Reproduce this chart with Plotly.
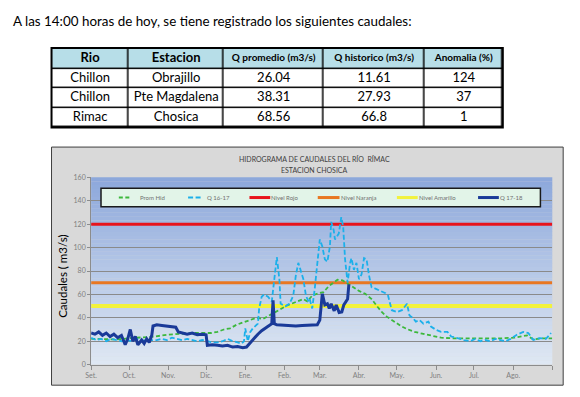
import plotly.graph_objects as go

W, H = 580, 397

# ---------------- data ----------------
header_text = "A las 14:00 horas de hoy, se tiene registrado los siguientes caudales:"

tbl_headers = ["Rio", "Estacion", "Q promedio (m3/s)", "Q historico (m3/s)", "Anomalia (%)"]
rio = ["Chillon", "Chillon", "Rimac"]
estacion = ["Obrajillo", "Pte Magdalena", "Chosica"]
q_promedio = [26.04, 38.31, 68.56]
q_historico = [11.61, 27.93, 66.8]
anomalia = [124, 37, 1]

chart_title_1 = "HIDROGRAMA DE CAUDALES DEL RÍO  RÍMAC"
chart_title_2 = "ESTACION CHOSICA"
y_title = "Caudales ( m3/s)"

month_days = [0, 30, 61, 91, 122, 153, 181, 212, 242, 273, 303, 334, 365]
month_labels = ["Set.", "Oct.", "Nov.", "Dic.", "Ene.", "Feb.", "Mar.", "Abr.", "May.", "Jun.", "Jul.", "Ago.", ""]

# Prom Hid (historical mean)
prom_days = [0, 10, 20, 30, 40, 50, 60, 70, 80, 90, 95, 100, 105, 110, 115, 120, 125, 131, 136,
             141, 146, 150, 155, 162, 168, 171, 175, 180, 184, 188, 192, 195, 199, 203, 207, 212,
             217, 222, 227, 230, 234, 238, 242, 246, 251, 256, 262, 267, 272, 277, 285, 295, 305,
             315, 325, 335, 340, 345, 350, 357, 365]
prom_vals = [22, 22, 21.5, 22.5, 23, 24, 25.5, 26.5, 27, 27, 27, 28, 30, 31, 34, 36, 38, 40, 39,
             42, 45, 48, 50.5, 53.5, 56, 54, 59, 61, 62, 67, 70, 72.5, 72, 69, 66, 63,
             60.5, 56, 49, 45, 41, 38, 35, 32.5, 30, 28, 26.5, 25.5, 24, 23, 22.5, 22.5, 22,
             22.5, 22.5, 23, 24, 25, 21.5, 22.5, 22.5]

# Q 16-17
q1617_days = [0, 4, 8, 12, 16, 20, 24, 28, 32, 36, 40, 44, 48, 52, 56, 60, 64, 68, 72, 76, 80,
              84, 88, 92, 96, 100, 104, 108, 112, 116, 119, 121, 122, 124, 126, 128, 130, 132,
              133, 135, 137, 140, 143, 145, 147, 149, 150, 154, 157, 160, 162, 164, 166, 168,
              170, 172, 173, 175, 177, 179, 181, 183, 185, 187, 189, 190, 192, 193, 196, 198,
              199.5, 201, 203, 205, 206, 208, 210, 212, 214, 216, 218, 220, 222, 225, 229, 233,
              235, 236, 238, 242, 246, 250, 252, 255, 257, 260, 263, 267, 269, 273, 277, 282,
              285, 290, 295, 300, 304, 308, 312, 316, 320, 324, 328, 332, 337, 342, 346, 350,
              355, 360, 364]
q1617_vals = [23, 21, 22, 20, 22, 21, 20, 21, 20, 22, 21, 20, 21, 21, 22, 21, 23, 22, 21, 22, 21,
              20, 21, 20, 19, 19, 20, 22, 20, 19, 18, 20, 31, 20, 28, 31, 33, 35,
              48, 58, 60, 58, 54, 73, 92, 73, 52, 50, 52, 59, 76, 87, 80, 73,
              59, 54, 56, 48, 65, 87, 107, 101, 90, 88, 101, 122, 115, 107, 112, 126,
              118, 90, 70, 87, 91, 81, 87, 73, 77, 91, 90, 76, 66, 65, 63, 61,
              59, 54, 46.5, 45, 46.5, 52, 42, 39.5, 36.7, 38, 35, 36.7, 32.5, 29.7, 28, 28,
              24, 22.7, 21, 20, 22, 20, 21, 20, 22, 21, 20, 22, 25.5, 28, 27, 21,
              22.7, 22, 27]

# Q 17-18 (current season)
q1718_days = [0, 3, 6, 9, 12, 15, 18, 21, 24, 27, 29, 31, 33, 35, 37, 40, 42, 44, 46, 48, 49,
              52, 56, 60, 64, 67, 69, 72, 76, 80, 84, 88, 91, 92, 96, 100, 104, 108, 112, 116,
              120, 123, 126, 129, 132, 135, 138, 141, 143, 144, 145, 147, 152, 157, 162, 167,
              172, 176, 179, 181, 183, 185, 187, 188.5, 190, 192.4, 194, 196.3, 198.4, 200,
              202, 203, 204]
q1718_vals = [27, 26, 28, 25, 27, 24, 26, 23, 25, 17, 22, 30, 20, 24, 17, 21, 18, 22, 19, 25, 33,
              34, 33.5, 33, 32.5, 32, 28, 27, 26, 27, 25.5, 26, 25.5, 16.5, 17, 16.5, 16, 16.5, 15, 15.5,
              14.5, 15, 19, 23, 26, 29, 31, 33, 35, 55, 35, 34, 33.5, 33.5, 33, 33.5,
              33.5, 34, 34, 38, 60.5, 51, 52, 48, 52, 46, 51, 44.5, 45, 51,
              55, 56, 68.56]

level_names = ["Nivel Rojo", "Nivel Naranja", "Nivel Amarillo"]
level_values = [120, 70, 50]

legend_names = ["Prom Hid", "Q 16-17", "Nivel Rojo", "Nivel Naranja", "Nivel Amarillo", "Q 17-18"]

# ---------------- styles / layout constants ----------------
COL_PROM = "#3cb83c"
COL_Q1617 = "#1cb0ea"
COL_Q1718 = "#1a3a98"
level_colors = ["#e8141c", "#e87722", "#f2f23c"]
level_widths = [3, 3, 4]
DASH_PROM = "4px,2.5px"
DASH_Q1617 = "5px,2.5px"

legend_style = {
    "Prom Hid": dict(color=COL_PROM, width=2, dash=DASH_PROM),
    "Q 16-17": dict(color=COL_Q1617, width=2, dash=DASH_Q1617),
    "Nivel Rojo": dict(color=level_colors[0], width=3),
    "Nivel Naranja": dict(color=level_colors[1], width=3),
    "Nivel Amarillo": dict(color=level_colors[2], width=3),
    "Q 17-18": dict(color=COL_Q1718, width=3),
}
# (key start, key end, text start) in pixels
legend_pos_px = [(114, 127, 135), (184, 199, 203), (246, 267, 268),
                 (315, 337, 338), (395, 416, 417), (477, 498, 499)]

table_col_widths = [78, 96, 101, 102, 79]
table_row_heights = [20, 20, 20, 21]          # bottom -> top (header on top)
header_font_sizes = [13, 13, 10, 10, 10]
cell_font_size = 13


def fx(p):
    return p / W


def fy(p):
    return 1 - p / H


FONT = "Lato, 'DejaVu Sans', sans-serif"

fig = go.Figure()

# ---------------- table (heatmap cells + text on its own axes) ----------------
col_edges = [0]
for w in table_col_widths:
    col_edges.append(col_edges[-1] + w)
row_edges = [0]
for h in table_row_heights:
    row_edges.append(row_edges[-1] + h)
col_centers = [(col_edges[i] + col_edges[i + 1]) / 2 for i in range(len(table_col_widths))]
row_centers = [(row_edges[i] + row_edges[i + 1]) / 2 for i in range(len(table_row_heights))]

n_body = len(rio)
z = [[0] * len(tbl_headers) for _ in range(n_body)] + [[1] * len(tbl_headers)]
fig.add_trace(go.Heatmap(
    x=col_edges, y=row_edges, z=z, xaxis="x2", yaxis="y2",
    colorscale=[[0, "white"], [1, "#b7dee8"]], zmin=0, zmax=1,
    showscale=False, xgap=1.5, ygap=1.5, hoverinfo="skip",
))

columns = [rio, estacion, [str(v) for v in q_promedio], [str(v) for v in q_historico],
           [str(v) for v in anomalia]]
tx, ty, tt, ts = [], [], [], []
for ci, col in enumerate(columns):
    tx.append(col_centers[ci])
    ty.append(row_centers[-1])
    tt.append("<b>%s</b>" % tbl_headers[ci])
    ts.append(header_font_sizes[ci])
    for ri, val in enumerate(col):
        tx.append(col_centers[ci])
        ty.append(row_centers[n_body - 1 - ri])
        tt.append(val)
        ts.append(cell_font_size)
fig.add_trace(go.Scatter(
    x=tx, y=ty, text=tt, mode="text", xaxis="x2", yaxis="y2",
    textposition="middle center", hoverinfo="skip",
    textfont=dict(family=FONT, size=ts, color="black"),
))

# ---------------- hydrograph ----------------
x_lo, x_hi = month_days[0], month_days[-1]

for name, val, col, wd in zip(level_names, level_values, level_colors, level_widths):
    fig.add_trace(go.Scatter(
        x=[x_lo, x_hi], y=[val, val], mode="lines", name=name,
        line=dict(color=col, width=wd), hoverinfo="skip",
    ))

fig.add_trace(go.Scatter(
    x=prom_days, y=prom_vals, mode="lines", name="Prom Hid",
    line=dict(color=COL_PROM, width=1.8, dash=DASH_PROM),
))
fig.add_trace(go.Scatter(
    x=q1617_days, y=q1617_vals, mode="lines", name="Q 16-17",
    line=dict(color=COL_Q1617, width=1.8, dash=DASH_Q1617),
))
fig.add_trace(go.Scatter(
    x=q1718_days, y=q1718_vals, mode="lines", name="Q 17-18",
    line=dict(color=COL_Q1718, width=3),
))

# ---------------- shapes ----------------
shapes = [
    dict(type="rect", xref="paper", yref="paper",
         x0=fx(46), x1=fx(563), y0=fy(388), y1=fy(145),
         fillcolor="#d9d9d9", line=dict(color="#3f3f3f", width=1), layer="below"),
    dict(type="rect", xref="x2 domain", yref="y2 domain", x0=0, x1=1, y0=0, y1=1,
         fillcolor="black", line=dict(width=0), layer="below"),
    dict(type="rect", xref="x2 domain", yref="y2 domain", x0=0, x1=1, y0=0, y1=1,
         fillcolor="rgba(0,0,0,0)", line=dict(color="black", width=2), layer="above"),
]
top_c = (141, 168, 219)
bot_c = (222, 231, 243)
n = 48
for i in range(n):
    t = i / (n - 1)
    c = tuple(int(round(top_c[k] + (bot_c[k] - top_c[k]) * t)) for k in range(3))
    shapes.append(dict(type="rect", xref="x domain", yref="y domain",
                       x0=0, x1=1, y0=1 - (i + 1) / n, y1=1 - i / n + 0.001,
                       fillcolor="rgb(%d,%d,%d)" % c, line=dict(width=0), layer="below"))

LEG_Y = 196.5
shapes.append(dict(type="rect", xref="paper", yref="paper",
                   x0=fx(96), x1=fx(540), y0=fy(206), y1=fy(187),
                   fillcolor="#e2f4e8", line=dict(color="#1a1a1a", width=1.5), layer="above"))

annotations = [
    dict(text=header_text, x=fx(5), y=fy(16), xref="paper", yref="paper",
         xanchor="left", yanchor="middle", showarrow=False,
         font=dict(family=FONT, size=13.4, color="black")),
    dict(text=chart_title_1, x=fx(312), y=fy(157), xref="paper", yref="paper",
         xanchor="center", yanchor="middle", showarrow=False,
         font=dict(family=FONT, size=7, color="#404040")),
    dict(text=chart_title_2, x=fx(312), y=fy(168), xref="paper", yref="paper",
         xanchor="center", yanchor="middle", showarrow=False,
         font=dict(family=FONT, size=7, color="#404040")),
    dict(text=y_title, x=fx(57), y=fy(277), xref="paper", yref="paper",
         xanchor="center", yanchor="middle", showarrow=False, textangle=-90,
         font=dict(family=FONT, size=11.5, color="black")),
]

for name, (k0, k1, t0) in zip(legend_names, legend_pos_px):
    shapes.append(dict(type="line", xref="paper", yref="paper",
                       x0=fx(k0), x1=fx(k1), y0=fy(LEG_Y), y1=fy(LEG_Y),
                       line=legend_style[name], layer="above"))
    annotations.append(dict(text=name, x=fx(t0 - 2), y=fy(LEG_Y), xref="paper", yref="paper",
                            xanchor="left", yanchor="middle", showarrow=False,
                            font=dict(family=FONT, size=6, color="#707070")))

fig.update_layout(
    width=W, height=H, autosize=False,
    margin=dict(l=0, r=0, t=0, b=0),
    paper_bgcolor="white", plot_bgcolor="rgba(0,0,0,0)",
    shapes=shapes, annotations=annotations,
    showlegend=False,
    xaxis=dict(
        domain=[fx(86), fx(552)], range=[x_lo, x_hi],
        tickmode="array", tickvals=month_days, ticktext=month_labels,
        ticks="outside", ticklen=4, tickcolor="#8c8c8c",
        showgrid=False, zeroline=False,
        showline=True, linecolor="#8c8c8c", linewidth=1,
        tickfont=dict(family=FONT, size=7, color="#808080"),
        fixedrange=True,
    ),
    yaxis=dict(
        domain=[fy(367), fy(176)], range=[0, 160], dtick=20,
        showgrid=True, gridcolor="#8a8a8a", gridwidth=1,
        zeroline=False, showline=True, linecolor="#8c8c8c", linewidth=1,
        ticks="outside", ticklen=3, tickcolor="#8c8c8c",
        tickfont=dict(family=FONT, size=7, color="#808080"),
        fixedrange=True,
    ),
    xaxis2=dict(
        domain=[fx(46), fx(502)], range=[col_edges[0], col_edges[-1]], anchor="y2",
        visible=False, fixedrange=True,
    ),
    yaxis2=dict(
        domain=[fy(125), fy(44)], range=[row_edges[0], row_edges[-1]], anchor="x2",
        visible=False, fixedrange=True,
    ),
)

fig.write_html(
    "out.html",
    post_script="document.body.style.margin='0';document.documentElement.style.overflow='hidden';",
    config={"displayModeBar": False},
)
